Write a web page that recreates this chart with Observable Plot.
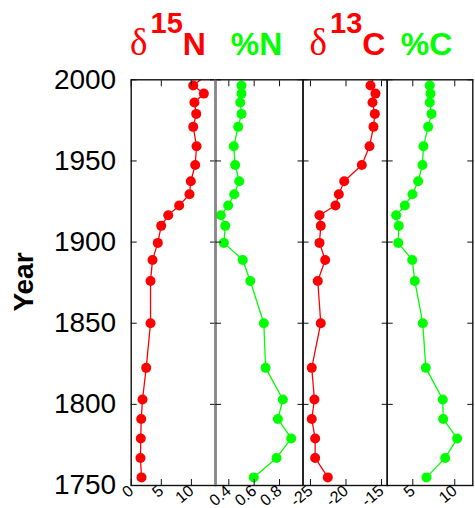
<!DOCTYPE html>
<html><head><meta charset="utf-8">
<script src="https://cdn.jsdelivr.net/npm/d3@7"></script>
<script src="https://cdn.jsdelivr.net/npm/@observablehq/plot@0.6"></script>
<style>
body{margin:0;background:#fff;}
#chart{position:relative;width:475px;height:508px;font-family:Arial,"Liberation Sans",sans-serif;}
#chart svg{position:absolute;left:0;top:0;}
</style></head><body><div id="chart"></div>
<script>
// ---- data ----
const years = [2004, 1996.5, 1991.5, 1986, 1979, 1971, 1959, 1947.5, 1937.5, 1929.5, 1922.5, 1916.5, 1910, 1899.5, 1889, 1876, 1850, 1822.5, 1803, 1791, 1779, 1767, 1755];
const d15N  = [12.9, 10.3, 12.06, 10.5, 10.8, 10.3, 10.85, 10.63, 9.9, 9.68, 7.97, 6.15, 4.98, 4.42, 3.54, 3.21, 3.21, 2.49, 1.88, 1.66, 1.59, 1.54, 1.71];
const pctN  = [null, 0.50, 0.50, 0.49, 0.50, 0.474, 0.439, 0.45, 0.482, 0.443, 0.395, 0.337, 0.372, 0.361, 0.51, 0.569, 0.676, 0.69, 0.826, 0.787, 0.892, 0.776, 0.597];
const d13C  = [-15.85, -16.55, -15.85, -16.27, -15.94, -16.13, -16.69, -17.77, -20.25, -21.01, -21.48, -23.73, -23.55, -23.73, -22.93, -23.97, -23.55, -24.82, -24.44, -24.82, -24.34, -24.34, -22.56];
const pctC  = [null, 7.02, 7.11, 7.02, 7.23, 6.83, 6.27, 6.15, 5.64, 4.96, 4.05, 3.02, 3.33, 3.26, 4.93, 5.24, 6.19, 6.55, 8.57, 8.62, 10.29, 8.86, 6.63];
const yTicks = [1750, 1800, 1850, 1900, 1950, 2000];
const xTicks15N = [0, 5, 10];
const xTicksN = [0.4, 0.6, 0.8];
const xTicks13C = [-25, -20, -15];
const xTicksC = [5, 10];
const titles = [
  {pre: "δ", sup: "15", main: "N"},
  {pre: "", sup: "", main: "%N"},
  {pre: "δ", sup: "13", main: "C"},
  {pre: "", sup: "", main: "%C"}
];
const yLabel = "Year";

// ---- layout ----
const W = 475, H = 508, TOP = 79.3, BOTTOM = 485;
const RED = "#ff0000", GREEN = "#00ff00";
const panels = [
  {values: d15N, domain: [0, 14], ticks: xTicks15N, color: RED, left: 130.7, right: 215, cx: 168},
  {values: pctN, domain: [0.295, 0.985], ticks: xTicksN, color: GREEN, left: 215, right: 302.5, cx: 256.5},
  {values: d13C, domain: [-26.05, -14.2], ticks: xTicks13C, color: RED, left: 302.5, right: 386.7, cx: 347.5},
  {values: pctC, domain: [1.95, 12.15], ticks: xTicksC, color: GREEN, left: 386.7, right: 472.3, cx: 426.5}
];
const FONT = 'Arial, "Liberation Sans", sans-serif';
const chart = document.getElementById("chart");

panels.forEach((p, i) => {
  const data = years.map((y, k) => ({year: y, v: p.values[k]})).filter(d => d.v != null);
  const marks = [
    Plot.line(data, {x: "v", y: "year", stroke: p.color, strokeWidth: 1.3, clip: true}),
    Plot.dot(data, {x: "v", y: "year", r: 5, fill: p.color, stroke: "none", clip: true}),
    Plot.frame({stroke: "#111", strokeWidth: 1.4})
  ];
  if (i === 1) marks.push(Plot.ruleX([p.domain[0]], {stroke: "#888", strokeWidth: 2.5}));
  marks.push(
    Plot.axisX(p.ticks, {anchor: "top", tickSize: 6, dy: 6, tickFormat: () => "", label: null, stroke: "#111"}),
    Plot.axisX(p.ticks, {anchor: "bottom", tickSize: 6, dy: -6, tickFormat: () => "", label: null, stroke: "#111"}),
    Plot.axisX(p.ticks, {anchor: "bottom", tickSize: 0, tickPadding: 3, tickRotate: -40, fontSize: 16, tickFormat: d => String(d), label: null, fill: "#000"}),
    Plot.axisY(yTicks, {anchor: "left", tickSize: 6, dx: 6, tickFormat: () => "", label: null, stroke: "#111"}),
    Plot.axisY(yTicks, {anchor: "right", tickSize: 6, dx: -6, tickFormat: () => "", label: null, stroke: "#111"})
  );
  if (i === 0) marks.push(Plot.axisY(yTicks, {anchor: "left", tickSize: 0, tickPadding: 15, fontSize: 28, tickFormat: d => String(d), label: null, fill: "#000"}));
  const plot = Plot.plot({
    width: W, height: H,
    marginLeft: p.left, marginRight: W - p.right,
    marginTop: TOP, marginBottom: H - BOTTOM,
    style: {background: "transparent", overflow: "visible", fontFamily: FONT, color: "#000"},
    x: {domain: p.domain},
    y: {domain: [1750, 2000]},
    marks
  });
  chart.appendChild(plot);
});

// titles and y label
const svg = d3.select(chart).append("svg").attr("width", W).attr("height", H)
  .style("pointer-events", "none");
panels.forEach((p, i) => {
  const t = titles[i];
  const text = svg.append("text").attr("x", p.cx).attr("y", 55).attr("text-anchor", "middle")
    .attr("fill", p.color).attr("font-family", FONT).attr("font-weight", "bold").attr("font-size", 32);
  if (t.pre) text.append("tspan").attr("font-family", '"Liberation Serif", "Times New Roman", serif')
    .attr("font-weight", "normal").attr("font-size", 37).text(t.pre);
  if (t.sup) text.append("tspan").attr("dx", 3).attr("dy", -22).attr("font-size", 29).text(t.sup);
  text.append("tspan").attr("dy", t.sup ? 22 : 0).text(t.main);
});
svg.append("text").attr("transform", "translate(33,282) rotate(-90)").attr("text-anchor", "middle")
  .attr("font-family", FONT).attr("font-weight", "bold").attr("font-size", 28).attr("fill", "#000").text(yLabel);
</script></body></html>
